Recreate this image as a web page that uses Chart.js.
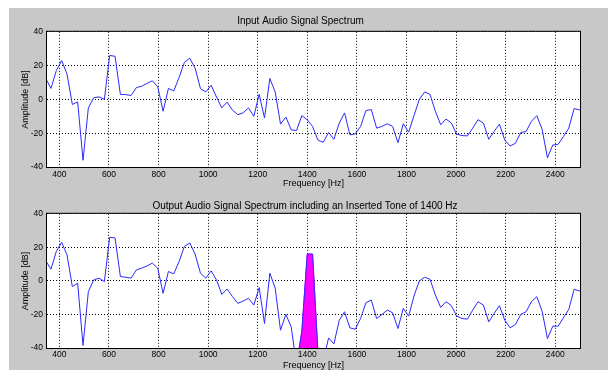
<!DOCTYPE html>
<html>
<head>
<meta charset="utf-8">
<script src="https://cdn.jsdelivr.net/npm/chart.js"></script>
<style>
  html, body { margin: 0; padding: 0; background: #fff; }
  #fig { position: absolute; left: 9px; top: 8px; width: 599px; height: 362px; background: #c8c8c8; }
  canvas { position: absolute; left: 0; }
  #chartIn { top: 0; }
  #chartOut { top: 182px; }
</style>
</head>
<body>
<div id="fig">
  <canvas id="chartIn" width="599" height="182"></canvas>
  <canvas id="chartOut" width="599" height="180"></canvas>
</div>
<script>
// frequency bins [Hz]
const freqHz = [
  344.5, 366.1, 387.6, 409.1, 430.7, 452.2, 473.7, 495.3, 516.8, 538.3,
  559.9, 581.4, 602.9, 624.5, 646.0, 667.5, 689.1, 710.6, 732.1, 753.7,
  775.2, 796.7, 818.3, 839.8, 861.3, 882.9, 904.4, 925.9, 947.5, 969.0,
  990.5, 1012.1, 1033.6, 1055.1, 1076.7, 1098.2, 1119.7, 1141.3, 1162.8, 1184.3,
  1205.9, 1227.4, 1248.9, 1270.5, 1292.0, 1313.5, 1335.1, 1356.6, 1378.1, 1399.7,
  1421.2, 1442.7, 1464.3, 1485.8, 1507.3, 1528.9, 1550.4, 1571.9, 1593.5, 1615.0,
  1636.5, 1658.1, 1679.6, 1701.1, 1722.7, 1744.2, 1765.7, 1787.3, 1808.8, 1830.3,
  1851.9, 1873.4, 1894.9, 1916.5, 1938.0, 1959.5, 1981.1, 2002.6, 2024.1, 2045.7,
  2067.2, 2088.7, 2110.3, 2131.8, 2153.3, 2174.9, 2196.4, 2217.9, 2239.5, 2261.0,
  2282.5, 2304.1, 2325.6, 2347.1, 2368.7, 2390.2, 2411.7, 2433.3, 2454.8, 2476.3,
  2497.9, 2519.4
]

// input spectrum [dB]
const inputDb = [
  12.5, 6.5, 17, 23, 15, -3, -1.5, -36, -5, 1,
  1.5, 0, 26, 25.5, 3, 2.8, 2.3, 7, 7.8, 9.5,
  11, 7.5, -7, 6.5, 5, 13, 22, 24.4, 18.5, 6.4,
  4.4, 8.4, 1.4, -5, -1.6, -6.4, -9, -8, -5, -10,
  3, -11, 12.4, 4.4, -14.6, -10.4, -18, -18.4, -9.6, -12,
  -16, -24, -25.4, -19.6, -23.6, -14, -8, -21, -20.4, -16,
  -6.6, -6, -17, -16, -14.4, -16, -25.6, -14.4, -19.4, -9.6,
  0, 4.4, 3, -7, -15, -11.6, -14, -20.6, -21.4, -21.6,
  -17, -12, -14, -23.6, -19, -14.6, -24, -27.6, -26, -19.6,
  -19, -13, -9.6, -17.6, -34.6, -27, -26.6, -22, -17, -5.4,
  -6.2, -7
]

// output spectrum [dB]
const outputDb = [
  12, 7, 17.6, 23, 15.5, -3.4, -1.4, -38.5, -6.4, 0.6,
  1.6, -0.4, 26, 25.6, 2.6, 2.2, 1.6, 6.6, 7.6, 9,
  10.6, 7.5, -7.4, 5.6, 4.2, 11.6, 20.6, 22.6, 16, 4.6,
  1.6, 6, 0.6, -8, -4.8, -9.4, -13.4, -12, -10.4, -14.4,
  -4, -25.4, 4.6, -4.4, -29.4, -20, -27.4, -50, -30, 16,
  16, -42, -48, -34, -37.6, -23.5, -18.4, -28, -28.8, -22.4,
  -13, -11.4, -22.4, -20, -17.4, -19, -28.4, -16.4, -21, -9,
  0, 2.2, 1, -8.4, -15.8, -12.4, -14.8, -21, -22.4, -22.8,
  -17.4, -12.4, -14.4, -24.4, -19.4, -14.8, -23.4, -28, -26, -20,
  -18.4, -12.4, -9.4, -18, -34.4, -27, -27, -22, -17, -5,
  -6, -7
]

// inserted tone
const toneHz = [1356.6, 1378.1, 1399.7, 1421.2, 1442.7]
const toneDb = [-50, -30, 16, 16, -42]

const freqTicks = [400, 600, 800, 1000, 1200, 1400, 1600, 1800, 2000, 2200, 2400]
const ampTicks = [-40, -20, 0, 20, 40]

const fam = 'Arial, "Liberation Sans", sans-serif'
const lineBlue = '#2a2aff'

const plotBox = {
    id: 'plotBox',
    beforeDraw(chart) {
        const { ctx, chartArea: a } = chart
        ctx.save()
        ctx.fillStyle = '#ffffff'
        ctx.fillRect(a.left, a.top, a.width, a.height)
        ctx.restore()
    },
    afterDatasetsDraw(chart) {
        const { ctx, chartArea: a } = chart
        ctx.save()
        ctx.strokeStyle = '#000'
        ctx.lineWidth = 1
        ctx.strokeRect(a.left - 0.5, a.top - 0.5, a.width + 1, a.height + 1)
        ctx.restore()
    }
}

const toPoints = (xs, ys) => xs.map((x, i) => ({ x: x, y: ys[i] }))

const makeChart = (id, cfg) => {
    const ctx = document.getElementById(id).getContext('2d')
    return new Chart(ctx, {
        type: 'line',
        data: { datasets: cfg.datasets },
        plugins: [plotBox],
        options: {
            responsive: false,
            animation: false,
            devicePixelRatio: 1,
            layout: { padding: { left: cfg.padLeft, right: 28, top: 0, bottom: 0 } },
            plugins: {
                legend: { display: false },
                tooltip: { enabled: false },
                title: {
                    display: true,
                    text: cfg.title,
                    color: '#000',
                    font: { family: fam, size: 10, weight: 'normal', lineHeight: 1.2 },
                    padding: cfg.titlePad
                }
            },
            elements: { point: { radius: 0 }, line: { tension: 0 } },
            scales: {
                x: {
                    type: 'linear',
                    min: 350,
                    max: 2500,
                    afterBuildTicks: s => { s.ticks = freqTicks.map(v => ({ value: v })) },
                    afterFit: s => { s.height = cfg.xAxisH },
                    grid: { color: '#000', lineWidth: 1, drawTicks: false },
                    border: { display: false, dash: [1, 2] },
                    ticks: {
                        autoSkip: false, maxRotation: 0, padding: cfg.xTickPad, color: '#000',
                        font: { family: fam, size: 8.5 },
                        callback: v => String(v)
                    },
                    title: {
                        display: true, text: 'Frequency [Hz]', color: '#000',
                        font: { family: fam, size: 9, lineHeight: 1 },
                        padding: { top: 0, bottom: cfg.xTitlePad }
                    }
                },
                y: {
                    type: 'linear',
                    min: -40,
                    max: 40,
                    afterBuildTicks: s => { s.ticks = ampTicks.map(v => ({ value: v })) },
                    afterFit: s => { s.width = cfg.yAxisW },
                    grid: { color: '#000', lineWidth: 1, drawTicks: false },
                    border: { display: false, dash: [1, 2] },
                    ticks: {
                        padding: 4, color: '#000',
                        font: { family: fam, size: 8.5 },
                        callback: v => String(v)
                    },
                    title: {
                        display: true, text: 'Amplitude [dB]', color: '#000',
                        font: { family: fam, size: 9, lineHeight: 1 },
                        padding: { top: cfg.yTitlePad, bottom: 0 }
                    }
                }
            }
        }
    })
}

const chartIn = makeChart('chartIn', {
    title: 'Input Audio Signal Spectrum',
    titlePad: { top: 7, bottom: 4.8 },
    padLeft: 12,
    yAxisW: 26,
    yTitlePad: 0.5,
    xAxisH: 23,
    xTickPad: 2.5,
    xTitlePad: 2.2,
    datasets: [
        { label: 'Input', data: toPoints(freqHz, inputDb), borderColor: lineBlue, borderWidth: 1, fill: false }
    ]
})

const chartOut = makeChart('chartOut', {
    title: 'Output Audio Signal Spectrum including an Inserted Tone of 1400 Hz',
    titlePad: { top: 10.1, bottom: 1.7 },
    padLeft: 21,
    yAxisW: 17,
    yTitlePad: -8.5,
    xAxisH: 22,
    xTickPad: 1.2,
    xTitlePad: 0,
    datasets: [
        { label: 'Output', data: toPoints(freqHz, outputDb), borderColor: lineBlue, borderWidth: 1, fill: false },
        { label: 'Tone', data: toPoints(toneHz, toneDb), borderColor: '#ff00ff', borderWidth: 1, backgroundColor: '#ff00ff', fill: 'start' }
    ]
})
</script>
</body>
</html>
